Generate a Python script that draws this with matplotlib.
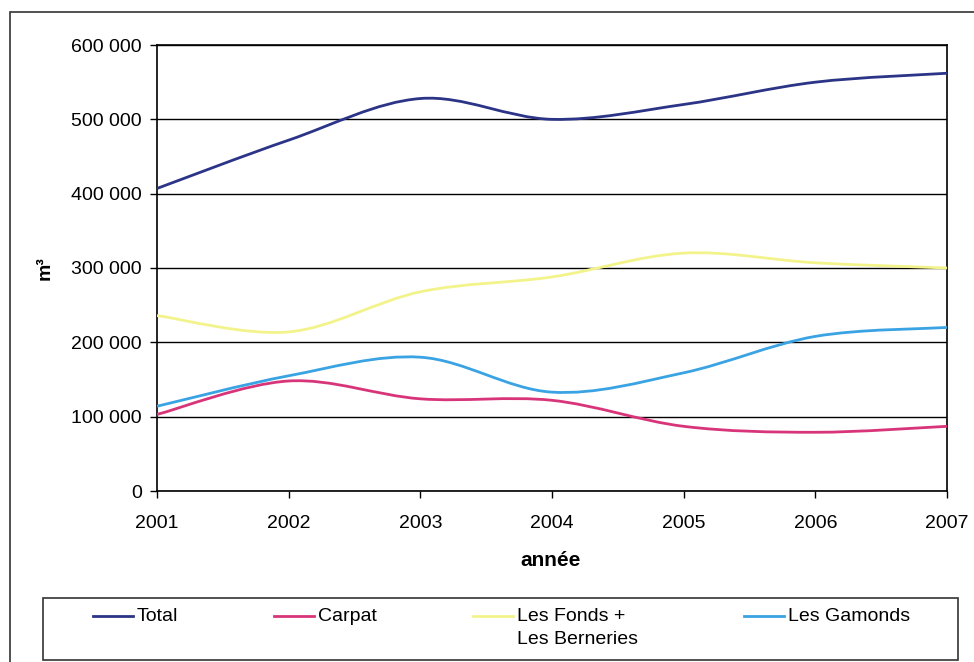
import matplotlib.pyplot as plt
import numpy as np
from matplotlib.path import Path
from matplotlib.patches import PathPatch, Rectangle
from matplotlib.lines import Line2D
from matplotlib.ticker import FuncFormatter

plt.rcParams['font.family'] = ['Liberation Sans', 'DejaVu Sans']

years = [2001, 2002, 2003, 2004, 2005, 2006, 2007]
total = [407000, 472000, 528000, 500000, 520000, 550000, 562000]
carpat = [103000, 148000, 124000, 122000, 87000, 79000, 87000]
fonds_berneries = [236000, 214000, 268000, 288000, 320000, 307000, 300000]
gamonds = [114000, 155000, 180000, 133000, 159000, 208000, 220000]

names = ['Total', 'Carpat', 'Les Fonds +\nLes Berneries', 'Les Gamonds']
colors = ['#2b3487', '#d8347a', '#f3f38c', '#3aa3e3']
values = [total, carpat, fonds_berneries, gamonds]


def smooth_path(x, y):
    # Excel-style smoothed line: cubic bezier through each point
    x = np.asarray(x, float)
    y = np.asarray(y, float)
    n = len(x)
    verts = [(x[0], y[0])]
    codes = [Path.MOVETO]
    for i in range(n - 1):
        i0 = max(i - 1, 0)
        i3 = min(i + 2, n - 1)
        c1 = (x[i] + (x[i + 1] - x[i0]) / 6, y[i] + (y[i + 1] - y[i0]) / 6)
        c2 = (x[i + 1] - (x[i3] - x[i]) / 6, y[i + 1] - (y[i3] - y[i]) / 6)
        verts += [c1, c2, (x[i + 1], y[i + 1])]
        codes += [Path.CURVE4] * 3
    return Path(verts, codes)


W, H = 974, 662
fig = plt.figure(figsize=(W / 100, H / 100), dpi=100)
ax = fig.add_axes([157 / W, 171 / H, 790 / W, 446 / H])

for vals, col in zip(values, colors):
    ax.add_patch(PathPatch(smooth_path(years, vals), fill=False,
                           edgecolor=col, linewidth=2, zorder=3))

ax.set_xlim(2001, 2007)
ax.set_ylim(0, 600000)
ax.set_xticks(years)
ax.set_yticks(np.arange(0, 600001, 100000))
ax.yaxis.set_major_formatter(FuncFormatter(lambda v, p: f'{int(v):,}'.replace(',', ' ')))
ax.tick_params(labelsize=14, direction='out', length=5, width=1)
ax.tick_params(axis='y', pad=6)
ax.tick_params(axis='x', pad=12)
ax.grid(axis='y', color='black', linewidth=1)
ax.set_axisbelow(True)
for sp in ax.spines.values():
    sp.set_linewidth(1.2)

fig.text(45 / W, 1 - 268 / H, 'm³', rotation=90, fontsize=14,
         fontweight='bold', ha='center', va='center')
fig.text(551 / W, 1 - 560 / H, 'année', fontsize=15,
         fontweight='bold', ha='center', va='center')

# outer chart frame
fig.patches.append(Rectangle((10 / W, -0.05), 1.1, 1 - 12 / H + 0.05,
                             transform=fig.transFigure, fill=False,
                             edgecolor='#333333', linewidth=1.2))
# legend box
fig.patches.append(Rectangle((43 / W, 2 / H), 915 / W, 62 / H,
                             transform=fig.transFigure, fill=False,
                             edgecolor='#333333', linewidth=1.2))

# legend entries, Excel layout
key_x = [93, 274, 473, 744]
key_y = 1 - 616 / H
for name, col, x0 in zip(names, colors, key_x):
    fig.add_artist(Line2D([x0 / W, (x0 + 40) / W], [key_y, key_y], color=col,
                          linewidth=2, transform=fig.transFigure))
    fig.text((x0 + 44) / W, key_y + 8 / H, name, fontsize=14, ha='left',
             va='top', linespacing=1.45)

fig.savefig('out.png', dpi=100)
